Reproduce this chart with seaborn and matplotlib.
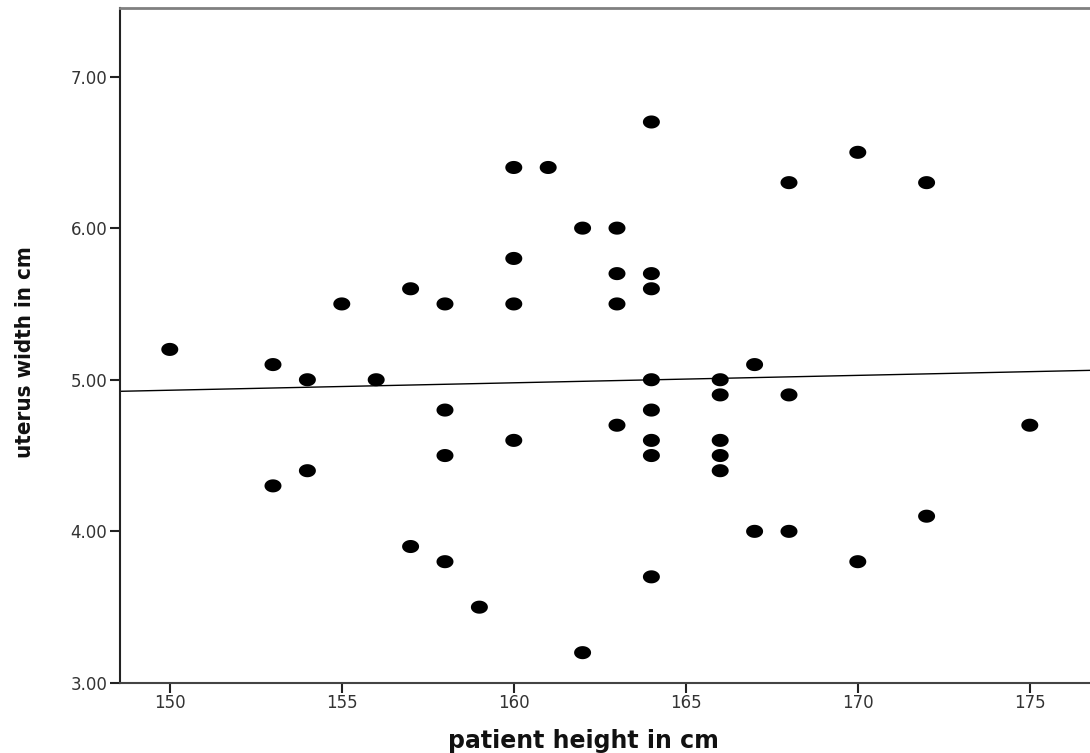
# Scatter of uterus width vs patient height with a linear fit line

import numpy as np
import pandas as pd
import matplotlib.pyplot as plt
import seaborn as sns

sns.set_style("white")

# ==========================
# Data
# ==========================

height = [150, 153, 153, 154, 154, 155, 156, 157, 157,
          158, 158, 158, 158, 159,
          160, 160, 160, 160, 161, 162, 162,
          163, 163, 163, 163,
          164, 164, 164, 164, 164, 164, 164, 164,
          166, 166, 166, 166, 166,
          167, 167, 168, 168, 168, 170, 170, 172, 172, 175]
width = [5.2, 5.1, 4.3, 5.0, 4.4, 5.5, 5.0, 5.6, 3.9,
         5.5, 4.8, 4.5, 3.8, 3.5,
         6.4, 5.8, 5.5, 4.6, 6.4, 6.0, 3.2,
         6.0, 5.7, 5.5, 4.7,
         6.7, 5.7, 5.6, 5.0, 4.8, 4.6, 4.5, 3.7,
         5.0, 4.9, 4.6, 4.5, 4.4,
         5.1, 4.0, 6.3, 4.9, 4.0, 6.5, 3.8, 6.3, 4.1, 4.7]

x_ticks = [150, 155, 160, 165, 170, 175]
y_ticks = [3.0, 4.0, 5.0, 6.0, 7.0]

df = pd.DataFrame({"height": height, "width": width})

# slightly wide dots, like the SPSS output
t = np.linspace(0, 2 * np.pi, 40)
ellipse = list(zip(1.3 * np.cos(t), np.sin(t)))

# ==========================
# Plot
# ==========================

fig = plt.figure(figsize=(10.9, 7.53), dpi=100)
ax = fig.add_axes([0.110, 0.093, 0.890, 0.896])
ax.set_xlim(148.55, 176.75)
ax.set_ylim(3.0, 7.45)

sns.regplot(data=df, x="height", y="width", ax=ax, ci=None, truncate=False,
            marker=ellipse,
            scatter_kws={"s": 150, "color": "black", "edgecolor": "none", "alpha": 1},
            line_kws={"color": "black", "linewidth": 1.0})
ax.set_xlim(148.55, 176.75)
ax.set_ylim(3.0, 7.45)

ax.set_xticks(x_ticks)
ax.set_xticklabels([str(v) for v in x_ticks])
ax.set_yticks(y_ticks)
ax.set_yticklabels([f"{v:.2f}" for v in y_ticks])
ax.tick_params(axis="both", direction="out", length=7, width=1.5, color="#222222",
               labelsize=12, labelcolor="#333333", left=True, bottom=True)
ax.tick_params(axis="y", pad=2)
ax.tick_params(axis="x", pad=1)

ax.set_xlabel("patient height in cm", fontsize=17, fontweight="bold",
              family=["DejaVu Sans"], color="#111111")
ax.xaxis.set_label_coords(0.478, -0.068)
ax.set_ylabel("uterus width in cm", fontsize=16, fontweight="bold",
              fontstretch="condensed", family=["DejaVu Sans"], color="#111111")
ax.yaxis.set_label_coords(-0.088, 0.49)

ax.spines["left"].set_color("#222222")
ax.spines["left"].set_linewidth(1.5)
ax.spines["bottom"].set_color("#444444")
ax.spines["bottom"].set_linewidth(1.5)
ax.spines["top"].set_color("#808080")
ax.spines["top"].set_linewidth(2)
ax.spines["right"].set_visible(False)

fig.savefig("out.png", dpi=100)
